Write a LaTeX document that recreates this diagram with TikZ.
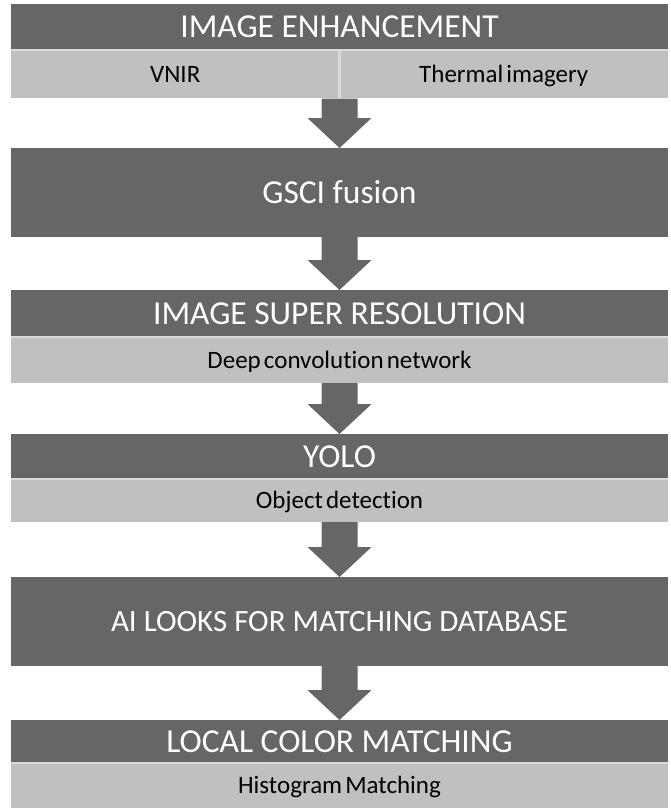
\documentclass[tikz,border=0pt]{standalone}
\usepackage{fontspec}
\setmainfont{Carlito}[Ligatures=NoCommon]
\newfontfamily\lightfont{Carlito}[Ligatures=NoCommon, WordSpace=0.55]
\usetikzlibrary{calc}
\definecolor{darkbox}{HTML}{666666}
\definecolor{lightbox}{HTML}{C0C0C0}
\definecolor{sepline}{HTML}{DADADA}
\newcommand{\flowarrow}[2]{%
  \fill[darkbox] ($(#1.south)+(-18,0)$) -- ($(#1.south)+(18,0)$)
    -- ($(#2.north)+(18,-30)$) -- ($(#2.north)+(32,-30)$)
    -- (#2.north) -- ($(#2.north)+(-32,-30)$)
    -- ($(#2.north)+(-18,-30)$) -- cycle;}
\begin{document}
\begin{tikzpicture}[x=1pt,y=-1pt,
  box/.style={inner sep=0, outer sep=0, anchor=north, text depth=0pt},
  dark/.style={box, fill=darkbox, text=white, font=\fontsize{33.5}{38}\selectfont, text height=21.6pt, minimum width=657},
  light/.style={box, fill=lightbox, text=black, font=\lightfont\fontsize{25}{28}\selectfont, text height=16.1pt, minimum width=657},
  halflight/.style={light, minimum width=328.5},
  sep/.style={draw=sepline, line width=1.5}]
\useasboundingbox (0,0) rectangle (670,811);
\fill[white] (0,0) rectangle (670,811);

% Step 1
\node[dark, minimum height=46] (ie) at (339.5,4) {IMAGE ENHANCEMENT};
\node[halflight, minimum height=48] (vnir) at (175.25,50) {VNIR};
\node[halflight, minimum height=48] (therm) at (503.75,50) {Thermal imagery};
\draw[sep] (vnir.north west) -- (therm.north east);
\draw[sep, line width=2.5] (vnir.north east) -- (vnir.south east);
\coordinate (ieb) at ($(vnir.south east)!0.5!(therm.south west)$);
\node[inner sep=0, outer sep=0] (iebot) at (ieb) {};

% Step 2
\node[dark, minimum height=89] (gsci) at (339.5,148) {GSCI fusion};

% Step 3
\node[dark, minimum height=47] (isr) at (339.5,290) {IMAGE SUPER RESOLUTION};
\node[light, minimum height=46] (dcn) at (339.5,337) {Deep convolution network};
\draw[sep] (dcn.north west) -- (dcn.north east);

% Step 4
\node[dark, minimum height=45] (yolo) at (339.5,434) {YOLO};
\node[light, minimum height=43] (od) at (339.5,479) {Object detection};
\draw[sep] (od.north west) -- (od.north east);

% Step 5
\node[dark, minimum height=89, font=\fontsize{31}{36}\selectfont, text height=20pt] (ai) at (339.5,577) {AI LOOKS FOR MATCHING DATABASE};

% Step 6
\node[dark, minimum height=43] (lcm) at (339.5,720) {LOCAL COLOR MATCHING};
\node[light, minimum height=45] (hm) at (339.5,763) {Histogram Matching};
\draw[sep] (hm.north west) -- (hm.north east);

% Arrows
\flowarrow{iebot}{gsci}
\flowarrow{gsci}{isr}
\flowarrow{dcn}{yolo}
\flowarrow{od}{ai}
\flowarrow{ai}{lcm}
\end{tikzpicture}
\end{document}
